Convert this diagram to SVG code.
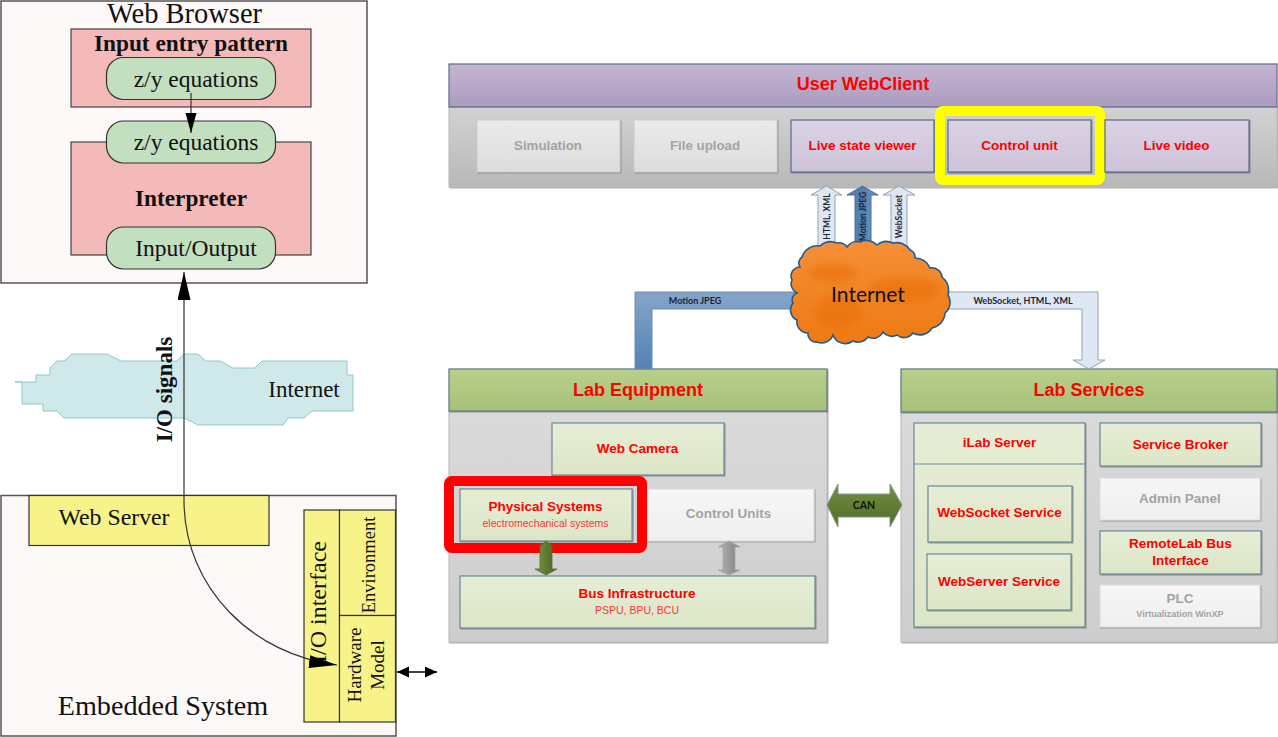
<svg xmlns="http://www.w3.org/2000/svg" width="1278" height="737" viewBox="0 0 1278 737">
<style>
text{font-family:"Liberation Sans",Arial,sans-serif;text-anchor:middle}
.s text,text.s{font-family:"Liberation Serif","Times New Roman",serif;fill:#111}
.frame{fill:#fcf8f8;stroke:#555;stroke-width:1.5}
.pink{fill:#f4baba;stroke:#444;stroke-width:1.2}
.pill{fill:#c2dfc0;stroke:#333;stroke-width:1.2}
.yel{fill:#f7f388;stroke:#333;stroke-width:1.2}
.line{fill:none;stroke:#333;stroke-width:1.2}
.green{fill:url(#gGreen);stroke:#5f7a8a;stroke-width:1.2;filter:url(#sh)}
.body{fill:url(#gBody);stroke:#bbb;stroke-width:1;filter:url(#sh)}
.ltg{fill:url(#gLt);stroke:#6d8a9a;stroke-width:1.2;filter:url(#sh)}
.off{fill:url(#gOff);stroke:#ddd;stroke-width:1;filter:url(#sh)}
.pur{fill:url(#gPur);stroke:#5d6a90;stroke-width:1.2;filter:url(#sh)}
.offb{fill:url(#gOffB);stroke:#ccc;stroke-width:1;filter:url(#sh)}
.r{fill:#f00;font-weight:bold}
.g{fill:#a3a3a3;font-weight:bold}
.pale{fill:#dfe7f2;stroke:#8ea3bd;stroke-width:1}
.lab{font-family:Lato,"Liberation Sans",sans-serif;font-weight:bold;fill:#1d2436;font-size:9px}
</style>
<defs>
<filter id="sh" x="-5%" y="-5%" width="110%" height="115%"><feDropShadow dx="0.8" dy="0.8" stdDeviation="0.6" flood-color="#555" flood-opacity="0.6"/></filter>
<filter id="bl" x="-30%" y="-30%" width="160%" height="160%"><feGaussianBlur stdDeviation="3"/></filter>
<linearGradient id="gGreen" x1="0" y1="0" x2="0" y2="1"><stop offset="0" stop-color="#b9cf8c"/><stop offset="1" stop-color="#a6c178"/></linearGradient>
<linearGradient id="gBody" x1="0" y1="0" x2="0" y2="1"><stop offset="0" stop-color="#dadada"/><stop offset="1" stop-color="#cdcdcd"/></linearGradient>
<linearGradient id="gLt" x1="0" y1="0" x2="0" y2="1"><stop offset="0" stop-color="#e6edd6"/><stop offset="1" stop-color="#dce6c6"/></linearGradient>
<linearGradient id="gOff" x1="0" y1="0" x2="0" y2="1"><stop offset="0" stop-color="#f6f6f6"/><stop offset="1" stop-color="#efefef"/></linearGradient>
<linearGradient id="gOffB" x1="0" y1="0" x2="0" y2="1"><stop offset="0" stop-color="#ebebeb"/><stop offset="1" stop-color="#dcdcdc"/></linearGradient>
<linearGradient id="gPur" x1="0" y1="0" x2="0" y2="1"><stop offset="0" stop-color="#dbd2e4"/><stop offset="1" stop-color="#cdc3da"/></linearGradient>
<linearGradient id="gHead" x1="0" y1="0" x2="0" y2="1"><stop offset="0" stop-color="#c4b6d2"/><stop offset="1" stop-color="#ab9bbd"/></linearGradient>
<linearGradient id="gGrey" x1="0" y1="0" x2="0" y2="1"><stop offset="0" stop-color="#d2d2d2"/><stop offset="1" stop-color="#b8b8b8"/></linearGradient>
<linearGradient id="gBlue" x1="0" y1="0" x2="0" y2="1"><stop offset="0" stop-color="#86a4c8"/><stop offset="1" stop-color="#5482b6"/></linearGradient>
<linearGradient id="gBlueH" x1="0" y1="0" x2="1" y2="0"><stop offset="0" stop-color="#5a84b5"/><stop offset="0.5" stop-color="#4f7cb0"/><stop offset="1" stop-color="#7f9fc6"/></linearGradient>
<linearGradient id="gOl" x1="0" y1="0" x2="1" y2="0"><stop offset="0" stop-color="#7e9a4a"/><stop offset="0.5" stop-color="#5e7a30"/><stop offset="1" stop-color="#4a6325"/></linearGradient>
<linearGradient id="gOlV" x1="0" y1="0" x2="0" y2="1"><stop offset="0" stop-color="#76913f"/><stop offset="1" stop-color="#4f6a28"/></linearGradient>
<linearGradient id="gGa" x1="0" y1="0" x2="1" y2="0"><stop offset="0" stop-color="#b4b4b4"/><stop offset="1" stop-color="#808080"/></linearGradient>
<linearGradient id="gCloud" x1="0" y1="0" x2="0" y2="1"><stop offset="0" stop-color="#f58f37"/><stop offset="1" stop-color="#ee7a12"/></linearGradient>
<marker id="big" markerUnits="userSpaceOnUse" markerWidth="30" markerHeight="14" refX="28" refY="6.5" orient="auto-start-reverse"><path d="M0 0L28 6.5L0 13Z" fill="#000"/></marker>
<marker id="mid" markerUnits="userSpaceOnUse" markerWidth="22" markerHeight="12" refX="20" refY="5.5" orient="auto"><path d="M0 0L20 5.5L0 11Z" fill="#000"/></marker>
<marker id="sm" markerUnits="userSpaceOnUse" markerWidth="14" markerHeight="12" refX="12" refY="5.5" orient="auto-start-reverse"><path d="M0 0L12 5.5L0 11Z" fill="#000"/></marker>
</defs>
<rect width="1278" height="737" fill="#fff"/>

<g id="web-browser" class="s">
<rect class="frame" x="1" y="1" width="366" height="282"/>
<text x="184.500" y="23" font-size="28.500">Web Browser</text>
</g>
<g id="input-entry-pattern" class="s">
<rect class="pink" x="71" y="29" width="240" height="78"/>
<text x="191" y="51" font-size="23.300" font-weight="bold">Input entry pattern</text>
<rect class="pill" x="106.500" y="57.500" width="169" height="42" rx="17"/>
<text x="196" y="87" font-size="23.500">z/y equations</text>
</g>
<g id="interpreter" class="s">
<rect class="pink" x="71" y="142" width="240" height="113"/>
<rect class="pill" x="106.500" y="121" width="169" height="42" rx="17"/>
<text x="196" y="150" font-size="23.500">z/y equations</text>
<text x="191" y="206" font-size="23.300" font-weight="bold">Interpreter</text>
<rect class="pill" x="106.500" y="227" width="169" height="42" rx="17"/>
<text x="196" y="256" font-size="23.500">Input/Output</text>
</g>
<g id="internet-left" class="s">
<polygon fill="#cfe8ea" stroke="#8fc8cc" stroke-width="1" points="22,382 15,382 36,382 36,375 50,375 50,368 57,361 64,361 72,354 107,354 121,361 177,361 184,354 198,354 206,361 220,361 233,368 255,368 262,361 347,361 347,375 353,375 353,411 312,411 304,418 288,418 283,425 198,425 184,418 64,418 57,411 43,411 43,404 22,404"/>
<text x="304" y="397" font-size="23">Internet</text>
</g>
<g id="embedded-system" class="s">
<rect class="frame" x="1" y="495.500" width="395" height="240.500"/>
<text x="163" y="715" font-size="28.200">Embedded System</text>
</g>
<g id="web-server" class="s">
<rect class="yel" x="29" y="495.500" width="240" height="50"/>
<text x="114" y="525" font-size="23.800">Web Server</text>
</g>
<g id="io-interface" class="s">
<rect class="yel" x="304" y="510" width="35.500" height="212"/>
<text transform="translate(326 602) rotate(-90)" font-size="24">I/O interface</text>
</g>
<g id="environment" class="s">
<rect class="yel" x="339.500" y="510" width="56" height="105.500"/>
<text transform="translate(375 565) rotate(-90)" font-size="18.500">Environment</text>
</g>
<g id="hardware-model" class="s">
<rect class="yel" x="339.500" y="615.500" width="56" height="106.500"/>
<text transform="translate(361 665) rotate(-90)" font-size="19">Hardware</text>
<text transform="translate(384 665) rotate(-90)" font-size="19">Model</text>
</g>

<g id="user-webclient">
<rect class="body" x="449" y="107" width="828" height="80" style="fill:url(#gGrey)"/>
<rect x="449" y="64" width="828" height="43" fill="url(#gHead)" stroke="#5d6a90" stroke-width="1.200"/>
<text class="r" x="863" y="90" font-size="18">User WebClient</text>
</g>
<g id="simulation"><rect class="offb" x="477" y="120" width="143" height="52"/><text class="g" x="548" y="150" font-size="13.300">Simulation</text></g>
<g id="file-upload"><rect class="offb" x="634" y="120" width="143" height="52"/><text class="g" x="705" y="150" font-size="13.300">File upload</text></g>
<g id="live-state-viewer"><rect class="pur" x="791" y="120" width="143" height="52"/><text class="r" x="862.500" y="150" font-size="13.500">Live state viewer</text></g>
<g id="control-unit"><rect class="pur" x="948" y="120" width="143" height="52"/><text class="r" x="1019.500" y="150" font-size="13.500">Control unit</text>
<rect x="940" y="111" width="160" height="69" rx="3" fill="none" stroke="#ff0" stroke-width="10"/></g>
<g id="live-video"><rect class="pur" x="1105" y="120" width="144" height="52"/><text class="r" x="1176.500" y="150" font-size="13.500">Live video</text></g>

<g id="lab-equipment">
<rect class="body" x="449" y="411" width="378" height="231"/>
<rect class="green" x="449" y="369" width="378" height="42"/>
<text class="r" x="638" y="395.500" font-size="18">Lab Equipment</text>
</g>
<g id="web-camera"><rect class="ltg" x="552" y="423" width="172" height="52"/><text class="r" x="637.500" y="453" font-size="13.500">Web Camera</text></g>
<g id="control-units"><rect class="off" x="647" y="489" width="167" height="52"/><text class="g" x="728.500" y="518" font-size="13.500">Control Units</text></g>
<g id="physical-systems"><rect class="ltg" x="460" y="489" width="172" height="52"/><text class="r" x="545.500" y="511" font-size="13.500">Physical Systems</text><text x="545.500" y="527" font-size="10.500" fill="#f33">electromechanical systems</text>
<rect x="449" y="481" width="193" height="67" rx="3" fill="none" stroke="#f00" stroke-width="10"/></g>
<g id="bus-infrastructure"><rect class="ltg" x="460" y="576" width="355" height="52"/><text class="r" x="637" y="598" font-size="13.500">Bus Infrastructure</text><text x="637" y="614" font-size="10.500" fill="#f33">PSPU, BPU, BCU</text></g>

<g id="lab-services">
<rect class="body" x="901" y="412" width="376" height="230"/>
<rect class="green" x="901" y="369" width="376" height="43"/>
<text class="r" x="1089" y="396" font-size="18">Lab Services</text>
</g>
<g id="ilab-server"><rect class="ltg" x="914" y="423" width="171" height="204"/><line x1="914" y1="464" x2="1085" y2="464" stroke="#6d8a9a" stroke-width="1.200"/><text class="r" x="999.500" y="447" font-size="13.500">iLab Server</text></g>
<g id="websocket-service"><rect class="ltg" x="928" y="486" width="144" height="56"/><text class="r" x="999.500" y="517" font-size="13.500">WebSocket Service</text></g>
<g id="webserver-service"><rect class="ltg" x="927" y="554" width="144" height="56"/><text class="r" x="999" y="586" font-size="13.500">WebServer Service</text></g>
<g id="service-broker"><rect class="ltg" x="1100" y="423" width="161" height="43"/><text class="r" x="1180.500" y="449" font-size="13.500">Service Broker</text></g>
<g id="admin-panel"><rect class="off" x="1100" y="478" width="160" height="42"/><text class="g" x="1180" y="502.500" font-size="13.500">Admin Panel</text></g>
<g id="remotelab-bus-interface"><rect class="ltg" x="1100" y="531" width="161" height="43"/><text class="r" x="1180.500" y="548" font-size="13.500">RemoteLab Bus</text><text class="r" x="1180.500" y="564.500" font-size="13.500">Interface</text></g>
<g id="plc"><rect class="off" x="1100" y="585" width="160" height="42"/><text class="g" x="1180" y="603" font-size="13.500">PLC</text><text class="g" x="1180" y="617" font-size="9">Virtualization WinXP</text></g>

<g id="connectors">
<line class="line" x1="191" y1="93" x2="191" y2="133" marker-end="url(#mid)"/>
<path class="line" d="M184 272V500C184 590 255 655 337 665" marker-start="url(#big)" marker-end="url(#big)"/>
<line class="line" x1="397" y1="672" x2="437" y2="672" style="stroke:#000;stroke-width:1.500" marker-start="url(#sm)" marker-end="url(#sm)"/>
<text class="s" transform="translate(171.500 389.500) rotate(-90)" font-size="23" font-weight="bold">I/O signals</text>
<polygon class="pale" points="826.500,186 842,195 835,195 835,250 818,250 818,195 811,195"/>
<polygon points="862.500,186 878,195 871,195 871,250 855,250 855,195 847,195" fill="url(#gBlueH)" stroke="#4a6d99"/>
<polygon class="pale" points="899,186 915,195 907,195 907,250 891,250 891,195 883,195"/>
<text class="lab" style="font-size:8.500px" transform="translate(829.500 216.500) rotate(-90)">HTML, XML</text>
<text class="lab" style="font-size:8.500px" transform="translate(866 216.500) rotate(-90)">Motion JPEG</text>
<text class="lab" style="font-size:8.500px" transform="translate(902 216.500) rotate(-90)">WebSocket</text>
<polygon points="635,369 635,292 810,292 810,309 652,309 652,369" fill="url(#gBlue)" stroke="#6b8cb5"/>
<text class="lab" x="695" y="304">Motion JPEG</text>
<polygon class="pale" points="930,292 1098,292 1098,360 1105,360 1089,369 1073,360 1082,360 1082,309 930,309"/>
<text class="lab" x="1023" y="304">WebSocket, HTML, XML</text>
<polygon points="546,541 552,546 552,569 557,569 546,575 535,569 540,569 540,546" fill="url(#gOl)" stroke="#54702c" stroke-width="0.800"/>
<polygon points="729,541 740,547 735,547 735,570 740,570 729,575 718,570 723,570 723,547 718,547" fill="url(#gGa)" stroke="#a5a5a5" stroke-width="0.800"/>
<polygon points="827,505 838,484 838,494 890,494 890,484 902,505 890,527 890,517 838,517 838,527" fill="url(#gOlV)" stroke="#7e9a8e" stroke-width="1"/>
<text class="lab" x="864" y="509" style="fill:#0c140a;font-size:10.500px">CAN</text>
</g>

<g id="internet-cloud">
<path d="M802 257A16 16 0 0 1 820 246A16 16 0 0 1 837 243A10 10 0 0 1 847 247A12 12 0 0 1 860 242A15 15 0 0 1 877 245A15 15 0 0 1 893 243A16 16 0 0 1 910 250A8 8 0 0 1 915 258A16 16 0 0 1 930 268A10 10 0 0 1 942 277A18 18 0 0 1 948 295A14 14 0 0 1 945 313A16 16 0 0 1 932 328A14 14 0 0 1 913 333A11 11 0 0 1 897 335A11 11 0 0 1 883 332A11 11 0 0 1 868 337A12 12 0 0 1 853 341A13 13 0 0 1 833 335A12 12 0 0 1 817 342A8 8 0 0 1 808 333A11 11 0 0 1 797 320A11 11 0 0 1 793 303A7 7 0 0 1 797 293A10 10 0 0 1 792 280A9 9 0 0 1 800 267A7 7 0 0 1 802 257Z" fill="url(#gCloud)" stroke="#1f5c93" stroke-width="1.600"/>
<g fill="#ea7210" opacity="0.65" filter="url(#bl)"><ellipse cx="833" cy="273" rx="24" ry="9"/><ellipse cx="905" cy="290" rx="36" ry="13"/><ellipse cx="838" cy="312" rx="24" ry="17"/></g>
<text x="868" y="302" font-size="21" style="font-family:Lato,'Liberation Sans',sans-serif" fill="#111">Internet</text>
</g>
</svg>
